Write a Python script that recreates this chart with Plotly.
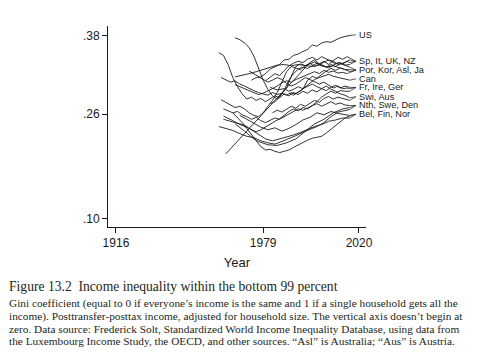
import plotly.graph_objects as go

# ---------------- data (Gini, bottom 99%) ----------------
US_YEARS = [1974, 1976, 1978, 1980, 1982, 1984, 1986, 1988, 1990, 1992, 1994, 1996, 1998, 2000, 2002, 2004, 2006, 2008, 2010, 2012, 2014, 2016, 2017]
US = [.312, .316, .317, .322, .329, .333, .336, .343, .344, .350, .352, .356, .359, .366, .364, .369, .371, .370, .374, .377, .379, .380, .381]

IT_YEARS = [1967, 1969, 1971, 1973, 1975, 1977, 1979, 1981, 1983, 1985, 1987, 1989, 1991, 1993, 1995, 1997, 1999, 2001, 2003, 2005, 2007, 2009, 2011, 2013, 2015, 2016]
IT = [.377, .374, .369, .362, .349, .330, .312, .298, .288, .283, .292, .300, .318, .333, .337, .334, .338, .333, .337, .334, .331, .335, .339, .337, .341, .343]

FR_YEARS = [1960, 1962, 1964, 1966, 1968, 1970, 1972, 1974, 1976, 1978, 1980, 1982, 1984, 1986, 1988, 1990, 1992, 1994, 1996, 1998, 2000, 2002, 2004, 2006, 2008, 2010, 2012, 2014, 2016]
FR = [.354, .350, .336, .316, .302, .291, .283, .286, .281, .284, .279, .283, .288, .285, .291, .288, .293, .290, .295, .292, .297, .294, .299, .296, .301, .304, .300, .303, .301]

SP_YEARS = [1963, 1999, 2001, 2003, 2005, 2007, 2009, 2011, 2013, 2015, 2016]
SP = [.199, .339, .343, .337, .341, .336, .342, .347, .344, .348, .346]

ASL_YEARS = [1967, 1970, 1973, 1976, 1979, 1982, 1985, 1988, 1991, 1994, 1997, 2000, 2003, 2006, 2009, 2012, 2015, 2016]
ASL = [.317, .319, .322, .325, .328, .331, .335, .336, .334, .336, .335, .333, .335, .332, .334, .331, .327, .325]

UK_YEARS = [1961, 1963, 1965, 1967, 1969, 1971, 1973, 1975, 1977, 1979, 1981, 1983, 1985, 1987, 1989, 1991, 1993, 1995, 1997, 1999, 2001, 2003, 2005, 2007, 2009, 2011, 2013, 2015, 2016]
UK = [.282, .278, .274, .270, .272, .268, .262, .258, .256, .262, .272, .281, .293, .309, .325, .333, .331, .328, .334, .337, .340, .336, .339, .343, .341, .336, .338, .341, .339]

NZ_YEARS = [1982, 1984, 1986, 1988, 1990, 1992, 1994, 1996, 1998, 2000, 2002, 2004, 2006, 2008, 2010, 2012, 2014, 2016]
NZ = [.276, .279, .286, .297, .312, .322, .329, .332, .330, .334, .338, .335, .332, .336, .333, .337, .335, .336]

POR_YEARS = [1980, 1982, 1984, 1986, 1988, 1990, 1992, 1994, 1996, 1998, 2000, 2002, 2004, 2006, 2008, 2010, 2012, 2014, 2016]
POR = [.311, .316, .322, .319, .327, .334, .338, .341, .339, .344, .347, .343, .348, .345, .341, .337, .339, .335, .332]

KOR_YEARS = [1990, 1992, 1994, 1996, 1998, 2000, 2002, 2004, 2006, 2008, 2010, 2012, 2014, 2016]
KOR = [.292, .289, .294, .298, .312, .318, .315, .321, .326, .330, .327, .331, .328, .328]

JA_YEARS = [1967, 1969, 1971, 1973, 1975, 1977, 1979, 1981, 1983, 1985, 1987, 1989, 1991, 1993, 1995, 1997, 1999, 2001, 2003, 2005, 2007, 2009, 2011, 2013, 2015]
JA = [.305, .302, .298, .296, .293, .290, .292, .295, .299, .303, .308, .311, .309, .313, .316, .319, .322, .325, .322, .327, .324, .326, .323, .324, .322]

CAN_YEARS = [1961, 1963, 1965, 1967, 1969, 1971, 1973, 1975, 1977, 1979, 1981, 1983, 1985, 1987, 1989, 1991, 1993, 1995, 1997, 1999, 2001, 2003, 2005, 2007, 2009, 2011, 2013, 2015, 2016]
CAN = [.316, .313, .309, .311, .306, .303, .299, .296, .293, .291, .289, .293, .290, .292, .289, .293, .291, .296, .302, .308, .313, .316, .319, .321, .318, .316, .314, .313, .312]

IRE_YEARS = [1973, 1975, 1977, 1979, 1981, 1983, 1985, 1987, 1989, 1991, 1993, 1995, 1997, 1999, 2001, 2003, 2005, 2007, 2009, 2011, 2013, 2015, 2016]
IRE = [.326, .322, .318, .314, .309, .312, .316, .313, .307, .303, .306, .311, .316, .313, .310, .306, .309, .304, .300, .303, .299, .300, .299]

GER_YEARS = [1962, 1964, 1966, 1968, 1970, 1972, 1974, 1976, 1978, 1980, 1982, 1984, 1986, 1988, 1990, 1992, 1994, 1996, 1998, 2000, 2002, 2004, 2006, 2008, 2010, 2012, 2014, 2016]
GER = [.268, .265, .262, .264, .259, .256, .252, .255, .250, .247, .251, .254, .252, .256, .259, .264, .268, .266, .270, .273, .279, .286, .291, .295, .292, .296, .295, .295]

SWI_YEARS = [1982, 1985, 1988, 1990, 1992, 1994, 1996, 1998, 2000, 2002, 2004, 2006, 2008, 2010, 2012, 2014, 2016]
SWI = [.301, .297, .299, .295, .298, .302, .299, .303, .306, .302, .299, .303, .298, .295, .291, .289, .285]

AUS_YEARS = [1983, 1985, 1987, 1989, 1991, 1993, 1995, 1997, 1999, 2001, 2003, 2005, 2007, 2009, 2011, 2013, 2015, 2016]
AUS = [.262, .266, .263, .268, .272, .269, .275, .272, .277, .281, .278, .284, .287, .283, .286, .284, .282, .281]

NTH_YEARS = [1962, 1964, 1966, 1968, 1970, 1972, 1974, 1976, 1978, 1980, 1982, 1984, 1986, 1988, 1990, 1992, 1994, 1996, 1998, 2000, 2002, 2004, 2006, 2008, 2010, 2012, 2014, 2016]
NTH = [.257, .254, .250, .246, .243, .240, .236, .233, .236, .240, .245, .249, .253, .258, .264, .268, .265, .270, .268, .273, .276, .272, .276, .279, .275, .277, .274, .273]

DEN_YEARS = [1960, 1963, 1966, 1969, 1972, 1975, 1978, 1981, 1984, 1987, 1990, 1993, 1996, 1999, 2002, 2005, 2008, 2011, 2014, 2016]
DEN = [.241, .238, .235, .230, .226, .224, .219, .216, .214, .218, .222, .227, .232, .236, .241, .247, .256, .263, .266, .267]

SWE_YEARS = [1967, 1969, 1971, 1973, 1975, 1977, 1979, 1981, 1985, 1989, 1993, 1997, 2001, 2005, 2009, 2013, 2016]
SWE = [.245, .240, .234, .228, .222, .218, .215, .213, .212, .216, .222, .233, .245, .252, .262, .268, .270]

FIN_YEARS = [1966, 1968, 1970, 1972, 1974, 1976, 1978, 1980, 1982, 1984, 1986, 1988, 1990, 1992, 1994, 1996, 1998, 2000, 2002, 2004, 2006, 2008, 2010, 2012, 2014, 2016]
FIN = [.262, .255, .247, .238, .229, .219, .210, .205, .206, .203, .201, .203, .205, .209, .213, .216, .220, .223, .225, .226, .231, .237, .243, .249, .254, .257]

NOR_YEARS = [1962, 1965, 1968, 1971, 1974, 1977, 1980, 1983, 1986, 1989, 1992, 1995, 1998, 2001, 2004, 2007, 2010, 2013, 2016]
NOR = [.252, .249, .246, .243, .236, .229, .222, .219, .222, .224, .228, .232, .237, .241, .244, .249, .251, .254, .254]

BEL_YEARS = [1969, 1972, 1975, 1978, 1981, 1984, 1987, 1990, 1993, 1996, 1999, 2002, 2005, 2008, 2011, 2014, 2016]
BEL = [.258, .252, .247, .240, .236, .239, .234, .238, .244, .251, .255, .262, .259, .264, .261, .259, .258]

# label groups (text, vertical label position in Gini units)
GROUP_LABELS = ["US", "Sp, It, UK, NZ", "Por, Kor, Asl, Ja", "Can", "Fr, Ire, Ger",
                "Swi, Aus", "Nth, Swe, Den", "Bel, Fin, Nor"]
GROUP_Y = [.3815, .341, .3275, .314, .3008, .2866, .2733, .2598]

SERIES = [
    ("US", US_YEARS, US, 0),
    ("Sp", SP_YEARS, SP, 1), ("It", IT_YEARS, IT, 1), ("UK", UK_YEARS, UK, 1), ("NZ", NZ_YEARS, NZ, 1),
    ("Por", POR_YEARS, POR, 2), ("Kor", KOR_YEARS, KOR, 2), ("Asl", ASL_YEARS, ASL, 2), ("Ja", JA_YEARS, JA, 2),
    ("Can", CAN_YEARS, CAN, 3),
    ("Fr", FR_YEARS, FR, 4), ("Ire", IRE_YEARS, IRE, 4), ("Ger", GER_YEARS, GER, 4),
    ("Swi", SWI_YEARS, SWI, 5), ("Aus", AUS_YEARS, AUS, 5),
    ("Nth", NTH_YEARS, NTH, 6), ("Swe", SWE_YEARS, SWE, 6), ("Den", DEN_YEARS, DEN, 6),
    ("Bel", BEL_YEARS, BEL, 7), ("Fin", FIN_YEARS, FIN, 7), ("Nor", NOR_YEARS, NOR, 7),
]

X_TICKS = [1916, 1979, 2020]
Y_TICKS = [0.10, 0.26, 0.38]
Y_TICK_TEXT = [".10", ".26", ".38"]

LEADER_X = 2018.7
LABEL_X = 2019.3

LINE_COLOR = "#1c1c1c"

fig = go.Figure()
for name, yrs, vals, g in SERIES:
    fig.add_trace(go.Scatter(x=yrs, y=vals, mode="lines", name=name,
                             line=dict(color=LINE_COLOR, width=0.9), hoverinfo="x+y+name"))

# leader lines from each series' last point to its group label
lx, ly = [], []
for name, yrs, vals, g in SERIES:
    lx += [yrs[-1], LEADER_X, None]
    ly += [vals[-1], GROUP_Y[g], None]
fig.add_trace(go.Scatter(x=lx, y=ly, mode="lines", line=dict(color=LINE_COLOR, width=0.7),
                         hoverinfo="skip", cliponaxis=False))

for txt, gy in zip(GROUP_LABELS, GROUP_Y):
    fig.add_annotation(x=LABEL_X, y=gy, xref="x", yref="y", text=txt, showarrow=False,
                       xanchor="left", yanchor="middle",
                       font=dict(family="Liberation Sans, Arial, sans-serif", size=9.2, color="#1a1a1a"))

# caption
PLOT_L, PLOT_W, PLOT_B, PLOT_H = 108, 258, 227, 201

def px_to_paper(px, py):
    return (px - PLOT_L) / PLOT_W, (PLOT_B - py) / PLOT_H

cap_title = "Figure 13.2\u00a0\u00a0Income inequality within the bottom 99 percent"
cap_lines = [
    "Gini coefficient (equal to 0 if everyone\u2019s income is the same and 1 if a single household gets all the",
    "income). Posttransfer-posttax income, adjusted for household size. The vertical axis doesn\u2019t begin at",
    "zero. Data source: Frederick Solt, Standardized World Income Inequality Database, using data from",
    "the Luxembourg Income Study, the OECD, and other sources. \u201cAsl\u201d is Australia; \u201cAus\u201d is Austria.",
]
x0, y0 = px_to_paper(7, 286)
fig.add_annotation(x=x0, y=y0, xref="paper", yref="paper", text=cap_title, showarrow=False,
                   xanchor="left", yanchor="middle",
                   font=dict(family="Liberation Serif, Times New Roman, serif", size=13.6, color="#231f20"))
for i, ln in enumerate(cap_lines):
    xx, yy = px_to_paper(7, 303.5 + i * 12.6)
    fig.add_annotation(x=xx, y=yy, xref="paper", yref="paper", text=ln, showarrow=False,
                       xanchor="left", yanchor="middle",
                       font=dict(family="Liberation Serif, Times New Roman, serif", size=11.3, color="#231f20"))

axis_font = dict(family="Liberation Sans, Arial, sans-serif", size=12, color="#1a1a1a")
fig.update_layout(
    width=494, height=360,
    margin=dict(l=108, r=128, t=26, b=133),
    paper_bgcolor="white", plot_bgcolor="white",
    showlegend=False,
    font=axis_font,
    xaxis=dict(range=[1912.6, 2023], tickvals=X_TICKS, ticks="outside", ticklen=5, tickwidth=1,
               tickcolor="#1a1a1a", showline=True, linecolor="#1a1a1a", linewidth=1,
               showgrid=False, zeroline=False, tickfont=axis_font,
               title=dict(text="Year", font=dict(family="Liberation Sans, Arial, sans-serif", size=13), standoff=8)),
    yaxis=dict(range=[0.087, 0.395], tickvals=Y_TICKS, ticktext=Y_TICK_TEXT, ticks="outside",
               ticklen=5, tickwidth=1, tickcolor="#1a1a1a", showline=True, linecolor="#1a1a1a",
               linewidth=1, showgrid=False, zeroline=False, tickfont=axis_font),
)

fig.write_html("out.html", config={"displayModeBar": False},
               post_script="document.body.style.margin='0';document.body.style.padding='0';")
